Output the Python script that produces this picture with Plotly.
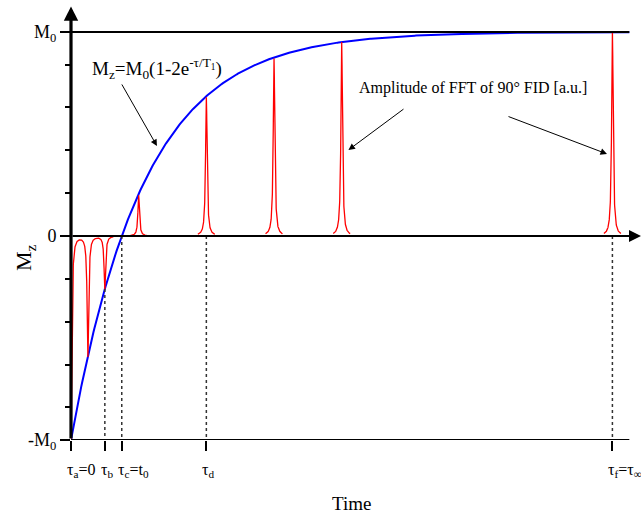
import numpy as np
import plotly.graph_objects as go

# ---- data ----
T1 = 4.328                      # relaxation time in tau units (zero crossing at tau = 3)
peak_tau = [0, 1, 2, 4, 8, 12, 16, 32]
peak_amp = [-1.0, -0.59, -0.26, 0.20, 0.68, 0.87, 0.95, 1.0]
marked_tau = [0, 2, 3, 8, 32]
marked_labels = ["τ<sub>a</sub>=0", "τ<sub>b</sub>", "τ<sub>c</sub>=t<sub>0</sub>",
                 "τ<sub>d</sub>", "τ<sub>f</sub>=τ<sub>∞</sub>"]
dotted_top = [0, -0.26, 0, 0, 0]
y_tick_vals = [-1, 0, 1]
y_tick_text = ["-M<sub>0</sub>", "0", "M<sub>0</sub>"]
y_minor_vals = [-0.84, -0.63, -0.42, -0.21, 0.21, 0.42, 0.63, 0.84]

SERIF = "Liberation Serif"
XMAX = 33.0
XR = [0, 33.69]
YR = [-1, 1.132]
PLOT_H = 435.0

fig = go.Figure()

# blue recovery curve M_z = M0(1-2exp(-tau/T1))
tc = np.linspace(0, XMAX, 600)
fig.add_trace(go.Scatter(x=tc, y=1 - 2 * np.exp(-tc / T1), mode="lines",
                         line=dict(color="#0000ff", width=2), hoverinfo="skip"))

# red Lorentzian FFT peaks
gamma = 0.055
xs = np.arange(0, XMAX + 0.6, 0.004)
ys = np.zeros_like(xs)
for c, a in zip(peak_tau, peak_amp):
    ys += a * gamma**2 / ((xs - c) ** 2 + gamma**2)
mask = np.zeros_like(xs, dtype=bool)
for c in peak_tau:
    mask |= np.abs(xs - c) <= 0.5
ys_plot = np.where(mask, ys, np.nan)
fig.add_trace(go.Scatter(x=xs, y=ys_plot, mode="lines", connectgaps=False,
                         line=dict(color="#ff0000", width=1.3), hoverinfo="skip"))

# dotted guide lines
for t, top in zip(marked_tau[1:], dotted_top[1:]):
    fig.add_shape(type="line", x0=t, x1=t, y0=top, y1=-1, xref="x", yref="y",
                  line=dict(color="#333333", width=1.5, dash="dot"))

# axis lines
fig.add_shape(type="line", x0=0, x1=XMAX, y0=-1, y1=-1, line=dict(color="black", width=2))
fig.add_shape(type="line", x0=0, x1=XMAX, y0=1, y1=1, line=dict(color="black", width=2))

annotations = []
# zero line with arrow
annotations.append(dict(x=33.69, y=0, ax=0, ay=0, xref="x", yref="y", axref="x", ayref="y",
                        text="", showarrow=True, arrowhead=2, arrowsize=1.2, arrowwidth=2,
                        arrowcolor="black"))
# y axis with arrow
annotations.append(dict(x=0, y=1.125, ax=0, ay=-1, xref="x", yref="y", axref="x", ayref="y",
                        text="", showarrow=True, arrowhead=2, arrowsize=0.9, arrowwidth=3.2,
                        arrowcolor="black"))
# formula
annotations.append(dict(x=1.1, y=0.82, xref="x", yref="y", xanchor="left", yanchor="middle",
                        text="M<sub>z</sub>=M<sub>0</sub>(1-2e<sup>-τ/T<sub>1</sub></sup>)",
                        showarrow=False, font=dict(family=SERIF, size=19, color="black")))
annotations.append(dict(x=5.08, y=0.441, ax=2.955, ay=0.75, xref="x", yref="y", axref="x",
                        ayref="y", text="", showarrow=True, arrowhead=2, arrowsize=1.3,
                        arrowwidth=1, arrowcolor="black"))
# FFT amplitude label
annotations.append(dict(x=16.9, y=0.725, xref="x", yref="y", xanchor="left", yanchor="middle",
                        text="Amplitude of FFT of 90° FID [a.u.]", showarrow=False,
                        font=dict(family=SERIF, size=16, color="black")))
annotations.append(dict(x=16.4, y=0.4216, ax=19.74, ay=0.627, xref="x", yref="y", axref="x",
                        ayref="y", text="", showarrow=True, arrowhead=2, arrowsize=1.3,
                        arrowwidth=1, arrowcolor="black"))
annotations.append(dict(x=31.68, y=0.402, ax=25.77, ay=0.588, xref="x", yref="y", axref="x",
                        ayref="y", text="", showarrow=True, arrowhead=2, arrowsize=1.3,
                        arrowwidth=1, arrowcolor="black"))
# x tick labels (first glyph centred on the tick)
for t, lab in zip(marked_tau, marked_labels):
    annotations.append(dict(x=t, y=-(459 - 440) / PLOT_H, xref="x", yref="paper",
                            xanchor="left", yanchor="top", xshift=-6, text=lab,
                            showarrow=False, font=dict(family=SERIF, size=16, color="black")))
# axis titles
annotations.append(dict(x=16.6, y=-(503 - 440) / PLOT_H, xref="x", yref="paper", text="Time",
                        xanchor="center", yanchor="middle", showarrow=False,
                        font=dict(family=SERIF, size=19, color="black")))
annotations.append(dict(x=-0.0807, y=-0.108, xref="paper", yref="y", text="M<sub>z</sub>",
                        xanchor="center", yanchor="middle",
                        textangle=-90, showarrow=False,
                        font=dict(family=SERIF, size=22, color="black")))

fig.update_layout(
    width=641, height=518,
    margin=dict(l=71, r=0, t=5, b=78, autoexpand=False),
    paper_bgcolor="white", plot_bgcolor="white",
    showlegend=False,
    annotations=annotations,
    xaxis=dict(range=XR, showgrid=False, zeroline=False, showline=False, automargin=False,
               tickmode="array", tickvals=marked_tau, ticktext=[""] * len(marked_tau),
               tickangle=0, ticks="outside", ticklen=10, tickwidth=2, tickcolor="black"),
    yaxis=dict(range=YR, showgrid=False, zeroline=False, showline=False, automargin=False,
               tickmode="array", tickvals=y_tick_vals, ticktext=y_tick_text,
               ticks="outside", ticklen=10, tickwidth=2, tickcolor="black",
               tickfont=dict(family=SERIF, size=18, color="black"),
               minor=dict(tickmode="array", tickvals=y_minor_vals, ticks="outside",
                          ticklen=5, tickwidth=2, tickcolor="black", showgrid=False)),
)

fig.write_html("out.html", config={"displayModeBar": False},
               post_script="document.body.style.margin='0';")
